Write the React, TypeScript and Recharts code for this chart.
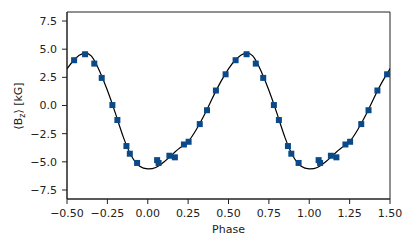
import {
  ComposedChart, Line, Scatter, ErrorBar, XAxis, YAxis, ReferenceArea,
} from "recharts";

// one rotation cycle of the fitted curve, phase 0..1
const CYCLE_PHASE = [
  0.0, 0.05, 0.1, 0.15, 0.2, 0.25, 0.3, 0.35, 0.4, 0.45, 0.5,
  0.55, 0.6, 0.65, 0.7, 0.75, 0.8, 0.85, 0.9, 0.95,
];
const CYCLE_BZ = [
  -5.63, -5.5, -5.02, -4.38, -3.76, -3.2, -2.15, -0.85, 0.65, 2.05, 3.25,
  4.15, 4.63, 4.4, 3.1, 1.35, -0.7, -2.85, -4.5, -5.4,
];

// observations (phase folded to -0.5..0.5) and <Bz> in kG
const OBS_PHASE = [
  -0.456, -0.388, -0.331, -0.285, -0.219, -0.188, -0.132, -0.111, -0.066,
  0.058, 0.067, 0.134, 0.168, 0.224, 0.253, 0.322, 0.367, 0.422, 0.482,
];
const OBS_BZ = [
  4.02, 4.55, 3.72, 2.45, 0.04, -1.29, -3.6, -4.28, -5.1,
  -4.85, -5.1, -4.46, -4.6, -3.46, -3.22, -1.65, -0.42, 1.33, 2.77,
];
const OBS_ERR = 0.2;

const X_TICKS = [-0.5, -0.25, 0, 0.25, 0.5, 0.75, 1, 1.25, 1.5];
const Y_TICKS = [-7.5, -5, -2.5, 0, 2.5, 5, 7.5];

const INK = "#222";
const MARK = "#0b4a88";

const minus = (s: string) => s.replace("-", "\u2212");

// repeat the cycle over -0.5..1.5
const curve: { x: number; y: number }[] = [];
for (const shift of [-1, 0, 1]) {
  CYCLE_PHASE.forEach((p, i) => {
    const x = +(p + shift).toFixed(3);
    if (x >= -0.5 && x <= 1.5) curve.push({ x, y: CYCLE_BZ[i] });
  });
}
curve.push({ x: 1.5, y: CYCLE_BZ[10] });
curve.sort((a, b) => a.x - b.x);

const points: { x: number; y: number; err: number }[] = [];
for (const shift of [0, 1]) {
  OBS_PHASE.forEach((p, i) => points.push({ x: p + shift, y: OBS_BZ[i], err: OBS_ERR }));
}

const tickStyle = { fontSize: 11, fill: INK, fontFamily: "DejaVu Sans" };

function Square(props: any) {
  const { cx, cy } = props;
  return <rect x={cx - 3} y={cy - 3} width={6} height={6} fill={MARK} />;
}

export default function App() {
  return (
    <div style={{ position: "absolute", left: 0, top: 0 }}>
      <ComposedChart
        width={415}
        height={249}
        margin={{ top: 12, right: 25, bottom: 20, left: 0 }}
      >
        <XAxis
          type="number"
          dataKey="x"
          domain={[-0.5, 1.5]}
          ticks={X_TICKS}
          allowDataOverflow
          tickFormatter={(v: number) => minus(v.toFixed(2))}
          tick={tickStyle}
          tickSize={5}
          tickMargin={5}
          height={30}
          stroke={INK}
          label={(p: any) => (
            <text
              x={p.viewBox.x + p.viewBox.width / 2}
              y={p.viewBox.y + 33.5}
              textAnchor="middle"
              style={{ fontSize: 11, fill: INK, fontFamily: "DejaVu Sans" }}
            >
              Phase
            </text>
          )}
        />
        <YAxis
          type="number"
          dataKey="y"
          domain={[-8.3, 8.3]}
          ticks={Y_TICKS}
          allowDataOverflow
          tickFormatter={(v: number) => minus(v.toFixed(1))}
          tick={tickStyle}
          tickSize={5}
          tickMargin={5}
          width={67}
          stroke={INK}
          label={() => (
            <text
              x={22}
              y={106}
              transform="rotate(-90, 22, 106)"
              textAnchor="middle"
              style={{ fontSize: 11, fill: INK, fontFamily: "DejaVu Sans" }}
            >
              {"\u27e8B"}
              <tspan dy={3} fontSize={8}>z</tspan>
              <tspan dy={-3}>{"\u27e9 [kG]"}</tspan>
            </text>
          )}
        />
        <Line
          data={curve}
          dataKey="y"
          type="natural"
          stroke="#000"
          strokeWidth={1.2}
          dot={false}
          isAnimationActive={false}
        />
        <Scatter data={points} dataKey="y" shape={Square} isAnimationActive={false}>
          <ErrorBar dataKey="err" direction="y" width={0} stroke="#5b86c0" strokeWidth={1} />
        </Scatter>
        <ReferenceArea
          x1={-0.5}
          x2={1.5}
          y1={-8.3}
          y2={8.3}
          fill="none"
          stroke={INK}
          strokeWidth={1}
          ifOverflow="visible"
        />
      </ComposedChart>
    </div>
  );
}
